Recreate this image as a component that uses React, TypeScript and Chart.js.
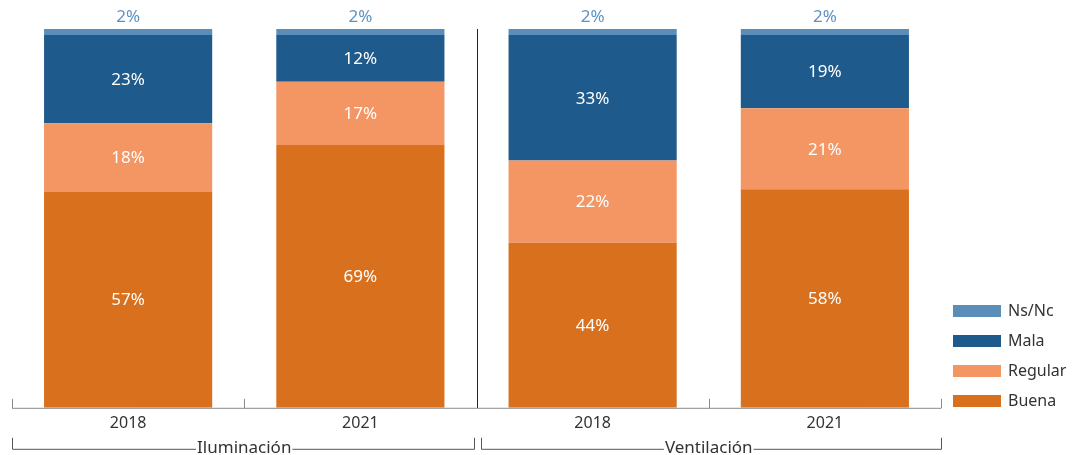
import React, { useEffect, useRef } from "react";
import { Chart, registerables } from "chart.js";

Chart.register(...registerables);

const categories = ["2018", "2021", "2018", "2021"];
const groups = ["Iluminación", "Ventilación"];
const seriesNames = ["Buena", "Regular", "Mala", "Ns/Nc"];
const buena = [57.1, 69.4, 43.6, 57.7];
const regular = [18.0, 16.7, 21.7, 21.4];
const mala = [23.3, 12.3, 33.1, 19.3];
const nsnc = [1.6, 1.6, 1.6, 1.6];
const colors = ["#d9701e", "#f39664", "#1f5a8c", "#5a8db8"];

const FONT = "'Noto Sans', 'Open Sans', sans-serif";

export default function App() {
  const ref = useRef<HTMLCanvasElement | null>(null);
  useEffect(() => {
    document.body.style.margin = "0";
    const canvas = ref.current!;
    const labelsPlugin = {
      id: "custom",
      afterDatasetsDraw(chart: any) {
        const ctx = chart.ctx;
        ctx.save();
        ctx.textAlign = "center";
        ctx.textBaseline = "middle";
        chart.data.datasets.forEach((ds: any, di: number) => {
          const meta = chart.getDatasetMeta(di);
          meta.data.forEach((el: any, i: number) => {
            const v = Math.round(ds.data[i]) + "%";
            ctx.font = `17px ${FONT}`;
            if (di === 3) {
              ctx.fillStyle = "#5f92c0";
              ctx.fillText(v, el.x, el.y - 12);
            } else {
              ctx.fillStyle = "#ffffff";
              ctx.fillText(v, el.x, (el.y + el.base) / 2 + 1);
            }
          });
        });
        ctx.restore();
      },
      afterDraw(chart: any) {
        const ctx = chart.ctx;
        const xs = chart.scales.x;
        const area = chart.chartArea;
        const n = categories.length;
        const centers = categories.map((_, i) => xs.getPixelForValue(i));
        const half = (centers[1] - centers[0]) / 2;
        const bounds = [centers[0] - half, ...centers.map((c) => c + half)];
        ctx.save();
        ctx.strokeStyle = "#8a8a8a";
        ctx.lineWidth = 1;
        ctx.beginPath();
        ctx.moveTo(bounds[0], area.bottom + 0.5);
        ctx.lineTo(bounds[n], area.bottom + 0.5);
        ctx.stroke();
        bounds.forEach((b) => {
          const x = Math.round(b) + 0.5;
          ctx.beginPath();
          ctx.moveTo(x, area.bottom + 0.5);
          ctx.lineTo(x, area.bottom - 9);
          ctx.stroke();
        });
        const mid = Math.round(bounds[2]) + 0.5;
        ctx.strokeStyle = "#222222";
        ctx.beginPath();
        ctx.moveTo(mid, area.top);
        ctx.lineTo(mid, area.bottom);
        ctx.stroke();
        const yLine = area.bottom + 41.5;
        const yTop = area.bottom + 30;
        ctx.font = `17px ${FONT}`;
        ctx.textAlign = "center";
        ctx.textBaseline = "middle";
        groups.forEach((g, gi) => {
          const x0 = Math.round(bounds[gi * 2] + (gi === 0 ? 0 : 4)) + 0.5;
          const x1 = Math.round(bounds[gi * 2 + 2] - (gi === 0 ? 3 : 0)) + 0.5;
          const cx = (bounds[gi * 2] + bounds[gi * 2 + 2]) / 2;
          const tw = ctx.measureText(g).width;
          ctx.strokeStyle = "#555555";
          ctx.beginPath();
          ctx.moveTo(x0, yTop);
          ctx.lineTo(x0, yLine);
          ctx.lineTo(cx - tw / 2 - 1, yLine);
          ctx.moveTo(cx + tw / 2 + 1, yLine);
          ctx.lineTo(x1, yLine);
          ctx.lineTo(x1, yTop);
          ctx.stroke();
          ctx.fillStyle = "#333333";
          ctx.fillText(g, cx, yLine - 1);
        });
        const order = [3, 2, 1, 0];
        ctx.textAlign = "left";
        ctx.font = `16px ${FONT}`;
        order.forEach((di, k) => {
          const y = 305 + k * 30;
          ctx.fillStyle = colors[di];
          ctx.fillRect(953, y, 48, 12);
          ctx.fillStyle = "#333333";
          ctx.fillText(seriesNames[di], 1008, y + 6);
        });
        ctx.restore();
      },
    };
    const chart = new Chart(canvas, {
      type: "bar",
      data: {
        labels: categories,
        datasets: [buena, regular, mala, nsnc].map((d, i) => ({
          label: seriesNames[i],
          data: d,
          backgroundColor: colors[i],
          borderWidth: 0,
          categoryPercentage: 1,
          barPercentage: 0.724,
        })),
      },
      options: {
        animation: false,
        responsive: false,
        layout: { padding: { top: 29, left: 12, right: 132, bottom: 16 } },
        plugins: { legend: { display: false }, tooltip: { enabled: false } },
        scales: {
          x: {
            stacked: true,
            grid: { display: true, drawOnChartArea: false, drawTicks: false, color: "rgba(0,0,0,0)" },
            border: { display: false },
            ticks: { color: "#333333", font: { family: FONT, size: 16 }, padding: 6 },
          },
          y: {
            stacked: true,
            display: false,
            min: 0,
            max: 100,
          },
        },
      },
      plugins: [labelsPlugin],
    });
    return () => chart.destroy();
  }, []);
  return (
    <div style={{ width: 1073, height: 455 }}>
      <canvas ref={ref} width={1073} height={455} style={{ display: "block" }} />
    </div>
  );
}
